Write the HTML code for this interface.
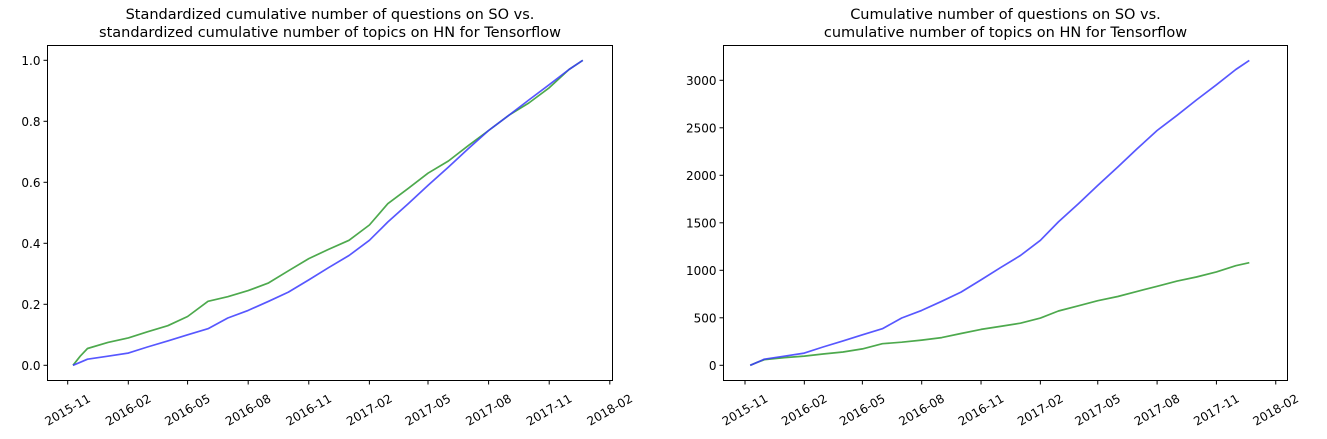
<!DOCTYPE html>
<html><head><meta charset="utf-8"><style>
html,body{margin:0;padding:0;background:#fff;}
svg{display:block;font-family:"DejaVu Sans","Liberation Sans",sans-serif;}
</style></head><body>
<svg id="c" width="1327" height="439"></svg>
<script>
const dates=["2015-11-09","2015-11-20","2015-12-01","2016-01-01","2016-02-01","2016-03-01","2016-04-01","2016-05-01","2016-06-01","2016-07-01","2016-08-01","2016-09-01","2016-10-01","2016-11-01","2016-12-01","2017-01-01","2017-02-01","2017-03-01","2017-04-01","2017-05-01","2017-06-01","2017-07-01","2017-08-01","2017-09-01","2017-10-01","2017-11-01","2017-12-01","2017-12-22"];
const leftGreen=[0,0.03,0.055,0.075,0.09,0.11,0.13,0.16,0.21,0.225,0.245,0.27,0.31,0.35,0.38,0.41,0.46,0.53,0.58,0.63,0.67,0.72,0.77,0.82,0.86,0.91,0.97,1.0];
const leftBlue=[0,0.01,0.02,0.03,0.04,0.06,0.08,0.1,0.12,0.155,0.18,0.21,0.24,0.28,0.32,0.36,0.41,0.47,0.53,0.59,0.65,0.71,0.77,0.82,0.87,0.92,0.97,1.0];
const rightBlue=[0,32,64,96,128,193,257,321,385,498,578,674,770,899,1027,1156,1316,1509,1701,1894,2087,2279,2472,2632,2793,2953,3114,3210];
const rightGreen=[0,32,59,81,97,119,140,173,227,243,265,292,335,378,410,443,497,572,626,680,724,778,832,886,929,983,1048,1080];
const xTicks=["2015-11","2016-02","2016-05","2016-08","2016-11","2017-02","2017-05","2017-08","2017-11","2018-02"];
const leftYTicks=[0,0.2,0.4,0.6,0.8,1.0];
const rightYTicks=[0,500,1000,1500,2000,2500,3000];
const NS="http://www.w3.org/2000/svg";
const svg=document.getElementById('c');
function el(t,a,p){const e=document.createElementNS(NS,t);for(const k in a)e.setAttribute(k,a[k]);(p||svg).appendChild(e);return e;}
function day(s){return Date.parse(s.length===7?s+"-01":s)/86400000;}
function panel(o){
  const g=el('g',{});
  
  
  const d0=day("2015-11-01");
  const xs=v=>o.x0+(day(v)-d0)*o.pxDay;
  const ys=v=>o.yZero-(v/o.yUnit)*o.yPx;
  o.title.forEach((t,i)=>{const tt=el('text',{x:(o.L+o.R)/2,y:19+i*18,'text-anchor':'middle','font-size':'14.5',fill:'#000'},g);tt.textContent=t;
    });
  [[o.g,'#2e9a2e','green'],[o.b,'#3a3aff','blue']].forEach(([arr,col,nm])=>{
    const pts=arr.map((v,i)=>xs(dates[i]).toFixed(1)+","+ys(v).toFixed(1)).join(" ");
    const pl=el('polyline',{points:pts,fill:'none',stroke:col,'stroke-width':1.7,'stroke-opacity':0.85,'stroke-linejoin':'round'},g);
    
  });
  const f=el('rect',{x:o.L,y:45.5,width:o.R-o.L,height:335,fill:'none',stroke:'#000','stroke-width':1},g);
  
  o.yt.forEach(v=>{const y=ys(v);
    el('line',{x1:o.L-4,x2:o.L,y1:y,y2:y,stroke:'#000'},g);
    const t=el('text',{x:o.L-7,y:y+4.5,'text-anchor':'end','font-size':'12',fill:'#000'},g);
    t.textContent=o.fmt(v);});
  xTicks.forEach(s=>{const x=xs(s);
    el('line',{x1:x,x2:x,y1:380.5,y2:384.5,stroke:'#000'},g);
    const t=el('text',{x:x,y:414,'text-anchor':'middle','font-size':'12',fill:'#000',transform:`rotate(-30 ${x} 410)`},g);
    t.textContent=s;});
}
panel({name:'left-panel',L:47.5,R:612.5,x0:67.7,pxDay:0.6587,yZero:365.3,yUnit:0.2,yPx:61,g:leftGreen,b:leftBlue,yt:leftYTicks,fmt:v=>v.toFixed(1),
  title:["Standardized cumulative number of questions on SO vs.","standardized cumulative number of topics on HN for Tensorflow"]});
panel({name:'right-panel',L:723.5,R:1287.5,x0:745,pxDay:0.6449,yZero:365.3,yUnit:500,yPx:47.5,g:rightGreen,b:rightBlue,yt:rightYTicks,fmt:v=>String(v),
  title:["Cumulative number of questions on SO vs.","cumulative number of topics on HN for Tensorflow"]});
</script>
</body></html>
